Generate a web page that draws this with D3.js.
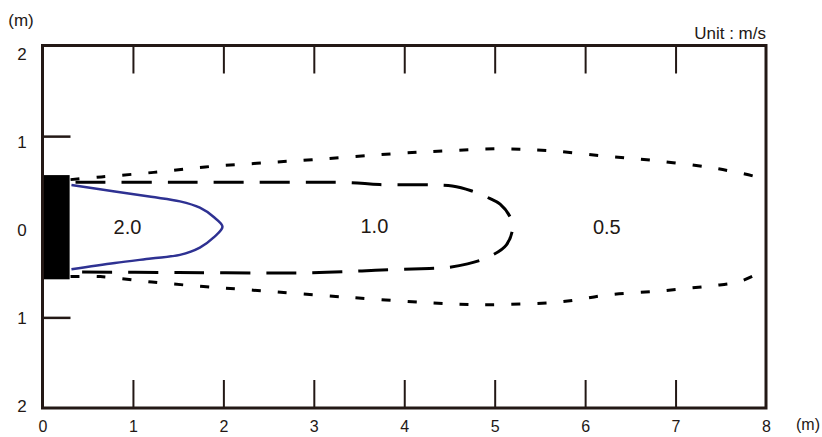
<!DOCTYPE html>
<html>
<head>
<meta charset="utf-8">
<script src="https://cdn.jsdelivr.net/npm/d3@7"></script>
<style>
  html, body { margin: 0; padding: 0; background: #fff; }
  svg { display: block; font-family: "Liberation Sans", Arial, sans-serif; }
</style>
</head>
<body>
<svg id="chart" width="822" height="437"></svg>
<script>
// ---------- data ----------
const xTickValues = [0, 1, 2, 3, 4, 5, 6, 7, 8];
const yTickValues = [2, 1, 0, -1, -2];
const yTickLabels = ["2", "1", "0", "1", "2"];
const innerXTicks = [1, 2, 3, 4, 5, 6, 7];
const sideTicks = [1, -1];

const nozzleX = [0, 0.3];
const nozzleY = [-0.58, 0.57];

// 2.0 m/s contour (blue, solid)
const contour20 = [[0.32, 0.46], [0.8, 0.39], [1.2, 0.33], [1.52, 0.28], [1.74, 0.21], [1.89, 0.11],
  [1.99, 0.0], [1.89, -0.12], [1.74, -0.23], [1.52, -0.31], [1.2, -0.35], [0.8, -0.40], [0.32, -0.47]];

// 1.0 m/s contour (long dashes)
const contour10 = [[0.3, 0.49], [1.5, 0.49], [2.85, 0.49], [3.4, 0.487], [3.73, 0.465], [4.53, 0.45],
  [4.76, 0.39], [4.95, 0.31], [5.06, 0.25], [5.17, 0.11], [5.2, 0.0], [5.13, -0.2], [4.94, -0.33],
  [4.7, -0.41], [4.47, -0.45], [4.28, -0.46], [3.68, -0.48], [3.48, -0.49], [2.85, -0.51],
  [1.5, -0.505], [0.3, -0.5]];

// 0.5 m/s contour (short dashes), upper and lower branches
const contour05Upper = [[0.31, 0.52], [0.65, 0.55], [1.23, 0.60], [1.80, 0.66], [2.37, 0.70], [2.98, 0.74],
  [3.95, 0.81], [4.5, 0.84], [5.06, 0.86], [5.6, 0.84], [6.21, 0.78], [6.77, 0.73], [7.34, 0.66],
  [7.63, 0.61], [7.90, 0.55], [8.0, 0.52]];
const contour05Lower = [[0.31, -0.55], [0.64, -0.55], [1.21, -0.61], [1.78, -0.66], [2.33, -0.70],
  [3.4, -0.78], [4.5, -0.85], [4.94, -0.86], [5.72, -0.83], [6.27, -0.75], [6.82, -0.71], [7.12, -0.68],
  [7.41, -0.65], [7.69, -0.61], [7.93, -0.51], [8.0, -0.48]];

const contourLabels = ["2.0", "1.0", "0.5"];
const contourLabelX = [0.94, 3.67, 6.24];
const contourLabelY = [0, 0.01, 0];

const unitText = "Unit : m/s";
const axisUnit = "(m)";

// ---------- drawing ----------
const ink = "#231815";
const svg = d3.select("#chart");

const x = d3.scaleLinear().domain([0, 8]).range([42.5, 766]);
const y = d3.scaleLinear().domain([2, -2]).range([45.5, 408]);
const yLab = d3.scaleLinear().domain([2, -2]).range([54, 406]);

const line = d3.line().x(d => x(d[0])).y(d => y(d[1])).curve(d3.curveCatmullRom.alpha(0.5));

// nozzle block
svg.append("rect")
  .attr("x", x(nozzleX[0])).attr("y", y(nozzleY[1]))
  .attr("width", x(nozzleX[1]) - x(nozzleX[0]))
  .attr("height", y(nozzleY[0]) - y(nozzleY[1]))
  .attr("fill", "#000");

// contours
svg.append("path").attr("d", line(contour05Upper))
  .attr("fill", "none").attr("stroke", "#000").attr("stroke-width", 3)
  .attr("stroke-dasharray", "9,17");
svg.append("path").attr("d", line(contour05Lower))
  .attr("fill", "none").attr("stroke", "#000").attr("stroke-width", 3)
  .attr("stroke-dasharray", "9,17");
svg.append("path").attr("d", line(contour10))
  .attr("fill", "none").attr("stroke", "#000").attr("stroke-width", 3)
  .attr("stroke-dasharray", "30,16").attr("stroke-dashoffset", 40);
svg.append("path").attr("d", line(contour20))
  .attr("fill", "none").attr("stroke", "#2e3192").attr("stroke-width", 2.5);

// contour labels
svg.selectAll("text.clab").data(contourLabels).enter().append("text")
  .attr("class", "clab")
  .attr("x", (d, i) => x(contourLabelX[i]))
  .attr("y", (d, i) => y(contourLabelY[i]))
  .attr("text-anchor", "middle").attr("dominant-baseline", "central")
  .attr("font-size", 20).attr("fill", ink)
  .text(d => d);

// inner tick marks (top and bottom)
const topAxis = d3.axisTop(x).tickValues(innerXTicks).tickSizeInner(-28).tickSizeOuter(0).tickFormat("");
const gTop = svg.append("g").attr("transform", `translate(0,${y(2)})`).call(topAxis);
gTop.select(".domain").remove();
gTop.selectAll(".tick line").attr("stroke", ink).attr("stroke-width", 2);

const bottomAxis = d3.axisBottom(x).tickValues(innerXTicks).tickSizeInner(-28).tickSizeOuter(0).tickFormat("");
const gBot = svg.append("g").attr("transform", `translate(0,${y(-2)})`).call(bottomAxis);
gBot.select(".domain").remove();
gBot.selectAll(".tick line").attr("stroke", ink).attr("stroke-width", 2);

const sideAxis = d3.axisLeft(y).tickValues(sideTicks).tickSizeInner(-28).tickSizeOuter(0).tickFormat("");
const gSide = svg.append("g").attr("transform", `translate(${x(0)},0)`).call(sideAxis);
gSide.select(".domain").remove();
gSide.selectAll(".tick line").attr("stroke", ink).attr("stroke-width", 2.5);

// x tick labels
const xLabAxis = d3.axisBottom(x).tickValues(xTickValues).tickSize(0).tickPadding(13).tickFormat(d3.format("d"));
const gXL = svg.append("g").attr("transform", `translate(0,${y(-2)})`).call(xLabAxis);
gXL.select(".domain").remove();
gXL.selectAll("text").attr("font-size", 16).attr("fill", ink)
  .attr("font-family", "'Liberation Sans', Arial, sans-serif");

// y tick labels
const yLabAxis = d3.axisLeft(yLab).tickValues(yTickValues).tickSize(0).tickPadding(0)
  .tickFormat((d, i) => yTickLabels[i]);
const gYL = svg.append("g").attr("transform", `translate(22,0)`).call(yLabAxis);
gYL.select(".domain").remove();
gYL.selectAll("text").attr("font-size", 17).attr("fill", ink).attr("text-anchor", "middle")
  .attr("font-family", "'Liberation Sans', Arial, sans-serif");

// frame
svg.append("rect")
  .attr("x", x(0)).attr("y", y(2))
  .attr("width", x(8) - x(0)).attr("height", y(-2) - y(2))
  .attr("fill", "none").attr("stroke", ink).attr("stroke-width", 3);

// unit texts
svg.append("text").attr("x", x(8)).attr("y", 39).attr("text-anchor", "end")
  .attr("font-size", 17).attr("fill", ink).text(unitText);
svg.append("text").attr("x", 21).attr("y", 26).attr("text-anchor", "middle")
  .attr("font-size", 17).attr("fill", ink).text(axisUnit);
svg.append("text").attr("x", 808).attr("y", 430).attr("text-anchor", "middle")
  .attr("font-size", 16).attr("fill", ink).text(axisUnit);
</script>
</body>
</html>
